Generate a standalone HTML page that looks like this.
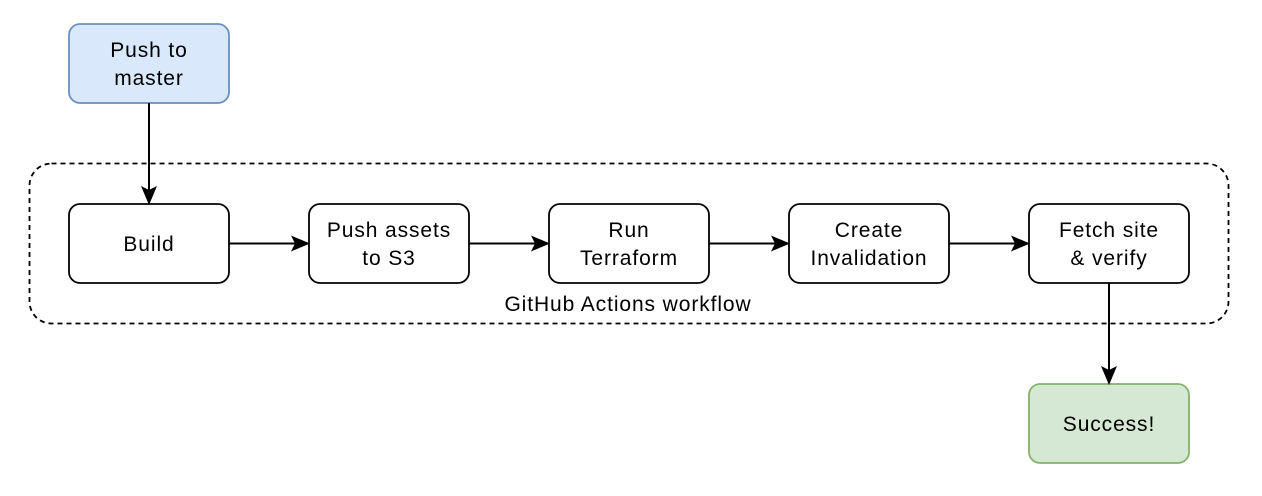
<!DOCTYPE html>
<html><head><style>body{margin:0;background:#fff}svg{display:block}text{font-family:"Liberation Sans",Arial,sans-serif;font-size:21px;fill:#000;text-anchor:middle;letter-spacing:0.9px}</style></head>
<body>
<svg width="1262" height="496" xmlns="http://www.w3.org/2000/svg">
<rect x="29.5" y="163.5" width="1199" height="160" rx="22" fill="none" stroke="#000" stroke-width="1.8" stroke-dasharray="5 4"/>
<rect x="69" y="24" width="160" height="79" rx="11" fill="#dae8fc" stroke="#6c8ebf" stroke-width="1.8"/>
<text x="149" y="57">Push to</text><text x="149" y="85">master</text>
<g fill="#fff" stroke="#000" stroke-width="1.8">
<rect x="69" y="204" width="160" height="79" rx="11"/>
<rect x="309" y="204" width="160" height="79" rx="11"/>
<rect x="549" y="204" width="160" height="79" rx="11"/>
<rect x="789" y="204" width="160" height="79" rx="11"/>
<rect x="1029" y="204" width="160" height="79" rx="11"/>
</g>
<rect x="1029" y="384" width="160" height="79" rx="11" fill="#d5e8d4" stroke="#82b366" stroke-width="1.8"/>
<g stroke="#000" stroke-width="2" fill="none">
<path d="M149 103 V194"/><path d="M229 243.5 H299"/><path d="M469 243.5 H539"/><path d="M709 243.5 H779"/><path d="M949 243.5 H1019"/><path d="M1109 283 V374"/>
</g>
<g fill="#000">
<path d="M149 205 L141 186 L149 190 L157 186 Z"/>
<path d="M310 243.5 L291 235.5 L295 243.5 L291 251.5 Z"/>
<path d="M550 243.5 L531 235.5 L535 243.5 L531 251.5 Z"/>
<path d="M790 243.5 L771 235.5 L775 243.5 L771 251.5 Z"/>
<path d="M1030 243.5 L1011 235.5 L1015 243.5 L1011 251.5 Z"/>
<path d="M1109 385 L1101 366 L1109 370 L1117 366 Z"/>
</g>
<text x="149" y="251">Build</text>
<text x="389" y="237">Push assets</text><text x="389" y="265">to S3</text>
<text x="629" y="237">Run</text><text x="629" y="265">Terraform</text>
<text x="869" y="237">Create</text><text x="869" y="265">Invalidation</text>
<text x="1109" y="237">Fetch site</text><text x="1109" y="265">&amp; verify</text>
<text x="628" y="311">GitHub Actions workflow</text>
<text x="1109" y="431">Success!</text>
</svg>
</body></html>
